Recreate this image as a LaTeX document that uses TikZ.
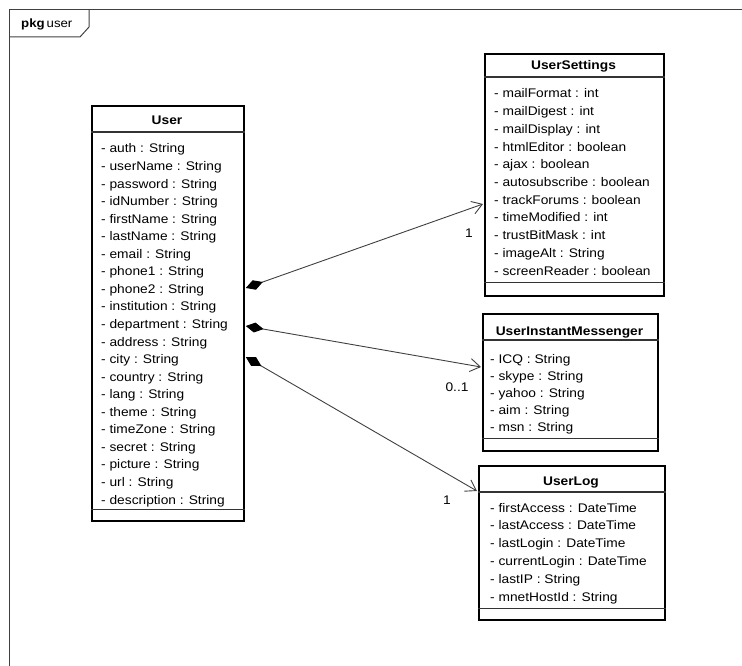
\documentclass[tikz,border=0pt]{standalone}
\usepackage{fontspec}
\setmainfont{Liberation Sans}[FakeStretch=1.1]
\usetikzlibrary{arrows.meta,calc}
\begin{document}
\begin{tikzpicture}[x=1pt,y=-1pt,
  cls/.style={draw=black,line width=1.8pt,fill=white,rectangle,inner sep=0pt,anchor=north west},
  sepline/.style={draw=black!80,line width=1.2pt},
  frameline/.style={draw=black!75,line width=1pt},
  attr/.style={font=\fontsize{12.5}{15}\selectfont,anchor=base west,inner sep=0pt},
  title/.style={font=\fontsize{12.5}{15}\selectfont\bfseries,anchor=base,inner sep=0pt},
  mult/.style={font=\fontsize{12.5}{15}\selectfont,inner sep=0pt},
  comp/.style={draw=black!75,line width=0.9pt,
    {Diamond[length=18pt,width=10pt,color=black]}-{Straight Barb[length=10pt,width=13pt]}}
]
\useasboundingbox (0,0) rectangle (742,666);
% package frame
\draw[frameline] (9,666) -- (9,10) -- (742,10);
\draw[frameline] (89,10) -- (89,27) -- (80,37) -- (9,37);
\node[font=\fontsize{12}{14}\selectfont,anchor=base west,inner sep=0pt] (pkg) at (21,28) {\textbf{pkg}\,user};

% User
\node[cls,minimum width=152pt,minimum height=415pt] (user) at (91,105) {};
\draw[sepline] ($(user.north west)+(0,27)$) -- ($(user.north east)+(0,27)$);
\draw[sepline] ($(user.south west)+(0,-12)$) -- ($(user.south east)+(0,-12)$);
\node[title] (usert) at (167,125) {User};
\foreach \t [count=\i from 0] in {auth : String,userName : String,password : String,idNumber : String,firstName : String,lastName : String,email : String,phone1 : String,phone2 : String,institution : String,department : String,address : String,city : String,country : String,lang : String,theme : String,timeZone : String,secret : String,picture : String,url : String,description : String}
  \node[attr] (ua\i) at (101,153+\i*17.55) {- \t};

% UserSettings
\node[cls,minimum width=179pt,minimum height=242pt] (settings) at (484,53) {};
\draw[sepline] ($(settings.north west)+(0,24)$) -- ($(settings.north east)+(0,24)$);
\draw[sepline] ($(settings.south west)+(0,-14)$) -- ($(settings.south east)+(0,-14)$);
\node[title] (settingst) at (573.5,70) {UserSettings};
\foreach \t [count=\i from 0] in {mailFormat : int,mailDigest : int,mailDisplay : int,htmlEditor : boolean,ajax : boolean,autosubscribe : boolean,trackForums : boolean,timeModified : int,trustBitMask : int,imageAlt : String,screenReader : boolean}
  \node[attr] (sa\i) at (494,98+\i*17.7) {- \t};

% UserInstantMessenger
\node[cls,minimum width=175pt,minimum height=137pt] (uim) at (482,313) {};
\draw[sepline] ($(uim.north west)+(0,27)$) -- ($(uim.north east)+(0,27)$);
\draw[sepline] ($(uim.south west)+(0,-13)$) -- ($(uim.south east)+(0,-13)$);
\node[title] (uimt) at (569.5,335) {UserInstantMessenger};
\foreach \t [count=\i from 0] in {ICQ : String,skype : String,yahoo : String,aim : String,msn : String}
  \node[attr] (ia\i) at (490,363+\i*17) {- \t};

% UserLog
\node[cls,minimum width=186pt,minimum height=154pt] (log) at (478,465) {};
\draw[sepline] ($(log.north west)+(0,27)$) -- ($(log.north east)+(0,27)$);
\draw[sepline] ($(log.south west)+(0,-12)$) -- ($(log.south east)+(0,-12)$);
\node[title] (logt) at (571,485) {UserLog};
\foreach \t [count=\i from 0] in {firstAccess : DateTime,lastAccess : DateTime,lastLogin : DateTime,currentLogin : DateTime,lastIP : String,mnetHostId : String}
  \node[attr] (la\i) at (490,512+\i*17.8) {- \t};

% connectors
\coordinate (s1) at ($(user.north east)+(1,183)$);
\coordinate (e1) at ($(settings.north west)+(-1,151)$);
\coordinate (s2) at ($(user.north east)+(1,221)$);
\coordinate (e2) at ($(uim.north west)+(-1,54)$);
\coordinate (s3) at ($(user.north east)+(1,252)$);
\coordinate (e3) at ($(log.north west)+(-1,26)$);
\draw[comp] (s1) -- (e1);
\draw[comp] (s2) -- (e2);
\draw[comp] (s3) -- (e3);
\node[mult] (m1) at (469,233) {1};
\node[mult] (m2) at (457,387) {0..1};
\node[mult] (m3) at (447,500) {1};
\end{tikzpicture}
\end{document}
